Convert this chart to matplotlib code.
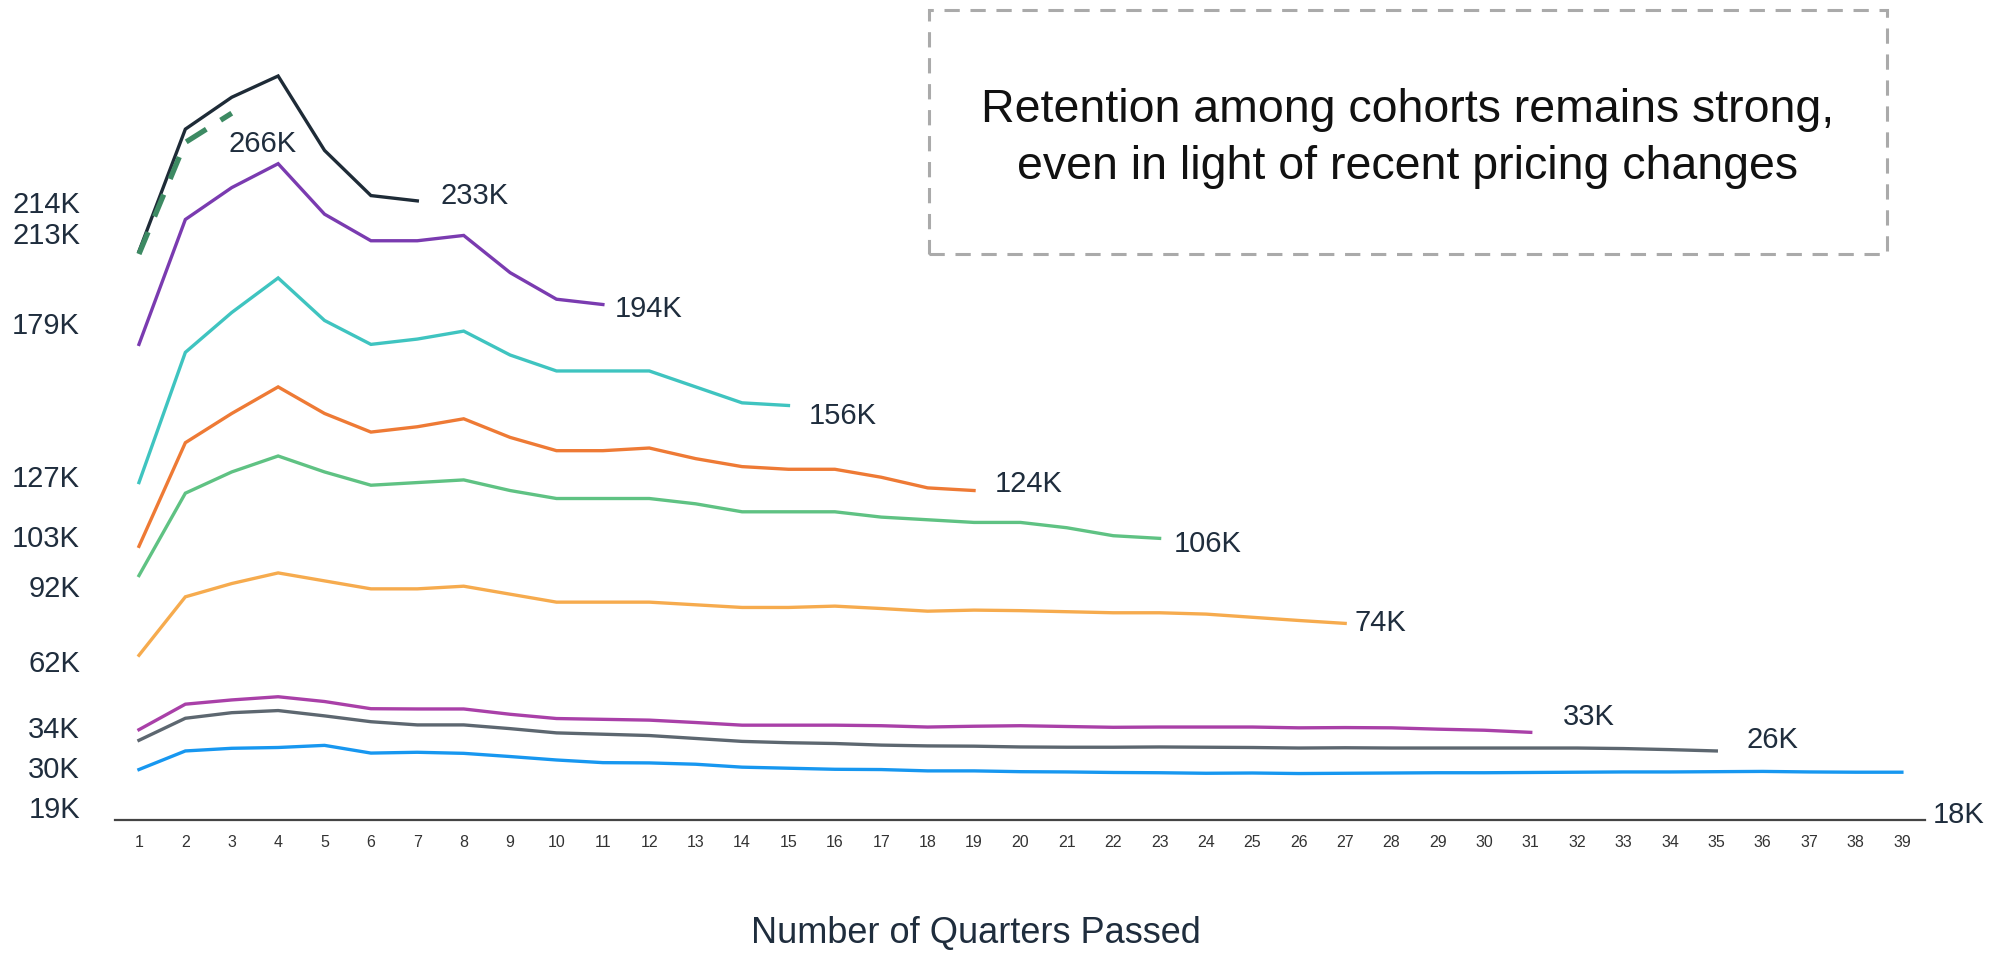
import matplotlib
matplotlib.use("Agg")
import matplotlib.pyplot as plt
from matplotlib.patches import Rectangle

# cohort retention, values in thousands of customers per quarter since start
quarters = list(range(1, 40))

cohort_a = [214, 260, 272, 280, 252, 235, 233]
cohort_b = [213, 255, 266]
cohort_c = [179, 226, 238, 247, 228, 218, 218, 220, 206, 196, 194]
cohort_d = [127, 176, 191, 204, 188, 179, 181, 184, 175, 169, 169, 169, 163, 157, 156]
cohort_e = [103, 142, 153, 163, 153, 146, 148, 151, 144, 139, 139, 140, 136, 133,
            132, 132, 129, 125, 124]
cohort_f = [92, 123, 131, 137, 131, 126, 127, 128, 124, 121, 121, 121, 119, 116,
            116, 116, 114, 113, 112, 112, 110, 107, 106]
cohort_g = [62, 84, 89, 93, 90, 87, 87, 88, 85, 82, 82, 82, 81, 80, 80, 80.5, 79.6,
            78.6, 79, 78.8, 78.4, 78, 78, 77.5, 76.3, 75.1, 74]
cohort_h = [34, 43.6, 45.2, 46.4, 44.6, 41.9, 41.8, 41.8, 39.8, 38.2, 37.9, 37.6,
            36.7, 35.7, 35.7, 35.7, 35.5, 35.0, 35.3, 35.5, 35.2, 34.9, 35.0, 35.0,
            35.0, 34.7, 34.8, 34.7, 34.2, 33.8, 33]
cohort_i = [30, 38.3, 40.4, 41.2, 39.2, 37.0, 35.8, 35.8, 34.4, 32.8, 32.3, 31.8,
            30.7, 29.6, 29.1, 28.8, 28.2, 27.9, 27.8, 27.5, 27.4, 27.4, 27.5, 27.4,
            27.3, 27.1, 27.2, 27.1, 27.1, 27.1, 27.1, 27.1, 26.9, 26.5, 26]
cohort_j = [19, 26.0, 27.0, 27.3, 28.1, 25.2, 25.5, 25.1, 23.9, 22.6, 21.6, 21.5,
            21.0, 19.9, 19.5, 19.1, 19.0, 18.5, 18.5, 18.2, 18.1, 17.9, 17.8, 17.6,
            17.7, 17.5, 17.6, 17.7, 17.8, 17.8, 17.9, 18.0, 18.1, 18.1, 18.2, 18.3,
            18.1, 18.0, 18]

cohorts = [cohort_a, cohort_b, cohort_c, cohort_d, cohort_e,
           cohort_f, cohort_g, cohort_h, cohort_i, cohort_j]
colors = ["#1e2b37", "#3d8a63", "#7a3bb0", "#3fc4c0", "#ee7a35",
          "#5fc283", "#f6ab4e", "#a940a8", "#5d6770", "#1797f0"]

# where the start / end value labels sit (start labels are spread out so they don't collide)
start_label_y = [231.5, 219.7, 186.0, 128.4, 105.8, 86.8, 58.8, 33.8, 18.8, 3.8]
end_label_pos = [(7.51, 234.9), (2.93, 254.3), (11.26, 192.3), (15.44, 152.2),
                 (19.45, 126.3), (23.3, 103.7), (27.2, 74.2), (31.69, 38.8),
                 (35.65, 30.0), (39.66, 1.8)]

font = ["Liberation Sans", "DejaVu Sans"]
text_color = "#1f2d3d"

fig = plt.figure(figsize=(20.03, 9.59), dpi=100)
ax = fig.add_axes([0.0574, 0.1449, 0.9037, 0.8551])

order = [0, 2, 3, 4, 5, 6, 7, 8, 9, 1]  # dashed cohort drawn last, on top
for i in order:
    vals = cohorts[i]
    xs = quarters[:len(vals)]
    if i == 1:
        ax.plot(xs, vals, color=colors[i], lw=3.8, ls=(0, (4.5, 3.2)),
                solid_capstyle="butt", zorder=4)
    else:
        ax.plot(xs, vals, color=colors[i], lw=2.4, solid_joinstyle="miter", zorder=3)

for i, vals in enumerate(cohorts):
    ax.text(-0.27, start_label_y[i], f"{round(vals[0])}K", ha="right", va="center",
            fontsize=21, color=text_color, family=font)
    ex, ey = end_label_pos[i]
    ax.text(ex, ey, f"{round(vals[-1])}K", ha="left", va="center",
            fontsize=21, color=text_color, family=font)

ax.set_xlim(0.483, 39.5)
ax.set_ylim(0, 308.6)
ax.set_xticks(quarters)
ax.set_xticklabels([str(q) for q in quarters], family=font, fontsize=11.5, color="#333333")
ax.set_yticks([])
ax.tick_params(axis="x", length=0, pad=11)
for side in ["left", "right", "top"]:
    ax.spines[side].set_visible(False)
ax.spines["bottom"].set_color("#444444")
ax.spines["bottom"].set_linewidth(1.6)

fig.text(0.4873, 0.008, "Number of Quarters Passed", ha="center", va="bottom",
         fontsize=26, color=text_color, family=font)

# dashed callout box
box = Rectangle((0.4638, 0.7351), 0.9420 - 0.4638, 0.9896 - 0.7351,
                transform=fig.transFigure, fill=False, edgecolor="#aaaaaa",
                lw=2.2, ls=(0, (5, 3.5)))
fig.patches.append(box)
fig.text(0.7028, 0.8555, "Retention among cohorts remains strong,\neven in light of recent pricing changes",
         ha="center", va="center", fontsize=33.5, color="#111111", family=font,
         linespacing=1.38)

fig.savefig("out.png", dpi=100)
